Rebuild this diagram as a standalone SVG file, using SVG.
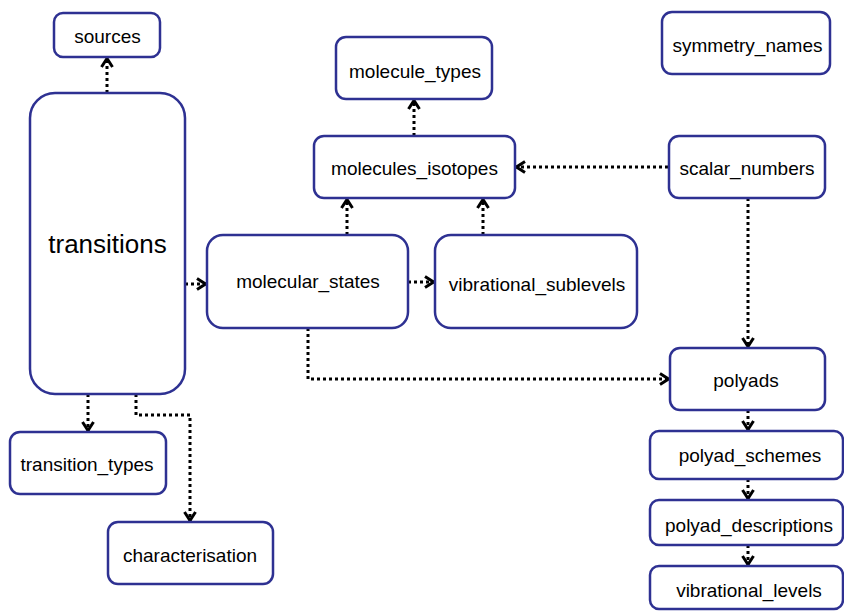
<svg xmlns="http://www.w3.org/2000/svg" width="844" height="611" viewBox="0 0 844 611">
<style>
.box{fill:#fff;stroke:#2e3192;stroke-width:2.5}
.lbl{font-family:"Liberation Sans",Arial,sans-serif;font-size:19px;fill:#000;text-anchor:middle}
.big{font-size:26px}
.edge{fill:none;stroke:#000;stroke-width:3;stroke-dasharray:3 3}
</style>
<defs>
<marker id="arr" viewBox="0 0 14 14" refX="12" refY="7" markerWidth="14" markerHeight="14" markerUnits="userSpaceOnUse" orient="auto">
<path d="M3,1.5 L11.5,7 L3,12.5" fill="none" stroke="#000" stroke-width="3"/>
</marker>
</defs>
<rect width="844" height="611" fill="#fff"/>
<g id="connectors">
<path class="edge" d="M107,93 V58" marker-end="url(#arr)"/>
<path class="edge" d="M185,284 H206" marker-end="url(#arr)"/>
<path class="edge" d="M88,394 V431" marker-end="url(#arr)"/>
<path class="edge" d="M136,394 V415 H190 V521" marker-end="url(#arr)"/>
<path class="edge" d="M414,136 V100" marker-end="url(#arr)"/>
<path class="edge" d="M347,235 V199" marker-end="url(#arr)"/>
<path class="edge" d="M483,235 V199" marker-end="url(#arr)"/>
<path class="edge" d="M408,282 H434" marker-end="url(#arr)"/>
<path class="edge" d="M668,167 H516" marker-end="url(#arr)"/>
<path class="edge" d="M748,198 V347" marker-end="url(#arr)"/>
<path class="edge" d="M308,328 V379 H669" marker-end="url(#arr)"/>
<path class="edge" d="M748,410 V430" marker-end="url(#arr)"/>
<path class="edge" d="M748,479 V499" marker-end="url(#arr)"/>
<path class="edge" d="M748,545 V565" marker-end="url(#arr)"/>
</g>
<g id="sources"><rect class="box" x="54" y="13" width="106" height="44" rx="9"/><text class="lbl" x="107.5" y="43">sources</text></g>
<g id="transitions"><rect class="box" x="30" y="93" width="155" height="301" rx="25"/><text class="lbl big" x="107.5" y="253">transitions</text></g>
<g id="molecule_types"><rect class="box" x="336" y="37" width="156" height="62" rx="10"/><text class="lbl" x="415" y="78">molecule_types</text></g>
<g id="molecules_isotopes"><rect class="box" x="314" y="136" width="201" height="62" rx="10"/><text class="lbl" x="414.5" y="175">molecules_isotopes</text></g>
<g id="molecular_states"><rect class="box" x="207" y="235" width="201" height="93" rx="16"/><text class="lbl" x="308" y="288">molecular_states</text></g>
<g id="vibrational_sublevels"><rect class="box" x="435" y="235" width="202" height="93" rx="16"/><text class="lbl" x="537" y="291">vibrational_sublevels</text></g>
<g id="symmetry_names"><rect class="box" x="662" y="12" width="168" height="62" rx="10"/><text class="lbl" x="747.5" y="52">symmetry_names</text></g>
<g id="scalar_numbers"><rect class="box" x="669" y="136" width="156" height="62" rx="10"/><text class="lbl" x="747" y="175">scalar_numbers</text></g>
<g id="polyads"><rect class="box" x="670" y="348" width="155" height="62" rx="10"/><text class="lbl" x="746" y="387">polyads</text></g>
<g id="polyad_schemes"><rect class="box" x="650" y="431" width="193" height="48" rx="9"/><text class="lbl" x="750" y="462">polyad_schemes</text></g>
<g id="polyad_descriptions"><rect class="box" x="650" y="500" width="193" height="45" rx="9"/><text class="lbl" x="749" y="532">polyad_descriptions</text></g>
<g id="vibrational_levels"><rect class="box" x="650" y="566" width="193" height="43" rx="9"/><text class="lbl" x="749" y="597">vibrational_levels</text></g>
<g id="transition_types"><rect class="box" x="10" y="432" width="156" height="62" rx="10"/><text class="lbl" x="87" y="471">transition_types</text></g>
<g id="characterisation"><rect class="box" x="108" y="522" width="165" height="62" rx="10"/><text class="lbl" x="190" y="562">characterisation</text></g>
</svg>
